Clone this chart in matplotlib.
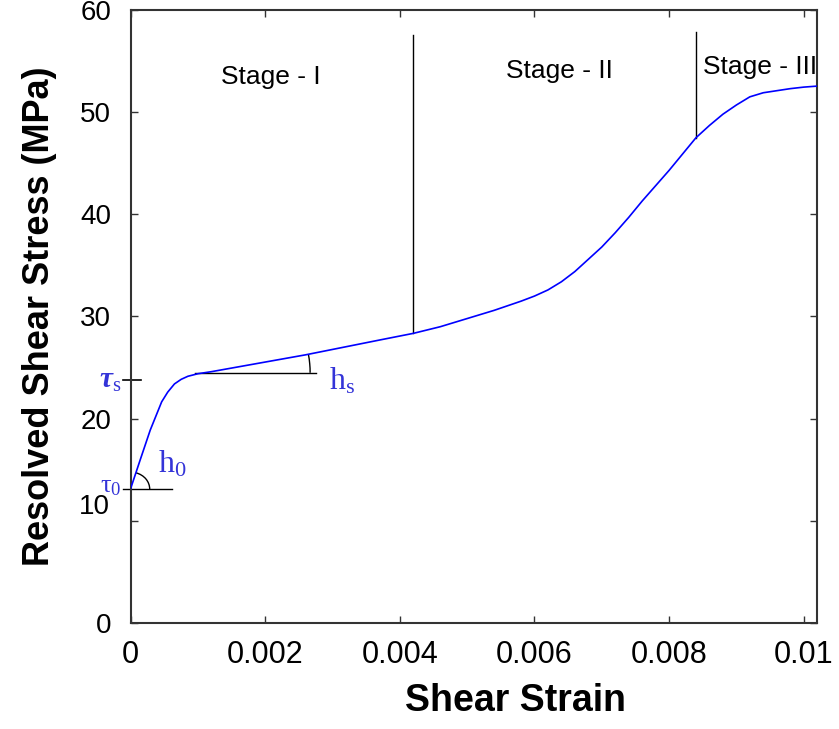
import matplotlib
matplotlib.use("Agg")
import matplotlib.pyplot as plt
from matplotlib.patches import Arc
from matplotlib.transforms import ScaledTranslation, blended_transform_factory
import numpy as np

plt.rcParams['mathtext.fontset'] = 'custom'
plt.rcParams['mathtext.rm'] = 'Liberation Serif'
plt.rcParams['mathtext.it'] = 'Liberation Serif:italic'
plt.rcParams['mathtext.bf'] = 'Liberation Serif:bold:italic'

# ---- data ----
strain = [0.0, 0.00014, 0.00029, 0.00046, 0.00055, 0.00065, 0.00075, 0.00085,
          0.0010, 0.0012, 0.0026, 0.0037, 0.0042, 0.0046, 0.0050, 0.0054,
          0.0058, 0.0060, 0.0062, 0.0064, 0.0066, 0.0068, 0.0070, 0.0072,
          0.0074, 0.0076, 0.0078, 0.0080, 0.0082, 0.0084, 0.0086, 0.0088,
          0.0090, 0.0092, 0.0094, 0.0096, 0.0098, 0.0100, 0.0102]
stress = [13.18, 15.95, 18.88, 21.65, 22.6, 23.4, 23.85, 24.15,
          24.4, 24.6, 26.25, 27.7, 28.35, 29.0, 29.8, 30.6,
          31.5, 32.0, 32.6, 33.4, 34.4, 35.6, 36.8, 38.2,
          39.7, 41.3, 42.8, 44.3, 45.9, 47.5, 48.7, 49.8,
          50.7, 51.5, 51.9, 52.1, 52.3, 52.45, 52.55]

x_ticks = [0, 0.002, 0.004, 0.006, 0.008, 0.010]
x_ticklabels = ['0', '0.002', '0.004', '0.006', '0.008', '0.01']
y_ticks = [0, 10, 20, 30, 40, 50, 60]
y_ticklabels = ['0', '', '20', '30', '40', '50', '60']

tau0 = 13.1
tau_s = 23.8
hs_level = 24.49
stage_bounds = [0.0042, 0.0084]
stage_tops = [57.6, 57.8]
stage_names = ['Stage - I', 'Stage - II', 'Stage - III']
stage_x = [0.00208, 0.00637, 0.00935]
stage_y = [53.4, 54.0, 54.4]

regular = ['Liberation Sans', 'DejaVu Sans']
blue_lbl = '#3434d8'

fig = plt.figure(figsize=(8.39, 7.29), dpi=100)
ax = fig.add_axes([0.1558, 0.1454, 0.8183, 0.8409])

ax.plot(strain, stress, color='#0000ff', lw=1.2, zorder=3)

ax.set_xlim(0, 0.010202)
ax.set_ylim(0, 60)
ax.set_xticks(x_ticks)
ax.set_xticklabels(x_ticklabels, family=regular, fontsize=22)
ax.set_yticks(y_ticks)
ax.set_yticklabels(y_ticklabels, family=regular, fontsize=20)
ax.tick_params(direction='in', length=5, width=1.0, top=True, right=True,
               color='#333333')
ax.tick_params(axis='x', pad=12)
ax.tick_params(axis='y', pad=14)
for s in ax.spines.values():
    s.set_color('#333333')
    s.set_linewidth(1.5)

# "10" label sits a little above its tick in the reference
tr = blended_transform_factory(ax.transAxes, ax.transData) + \
    ScaledTranslation(0, 14 / 100, fig.dpi_scale_trans)
ax.text(-0.030, 10, '10', transform=tr, ha='right', va='center',
        family=regular, fontsize=20, clip_on=False)

ax.set_xlabel('Shear Strain', family=regular, fontsize=27, fontweight='bold')
ax.xaxis.set_label_coords(0.56, -0.098)
ax.set_ylabel('Resolved Shear Stress (MPa)', family=regular, fontsize=26,
              fontweight='bold')
ax.yaxis.set_label_coords(-0.108, 0.50)

# stage separators and labels
for xb, yt in zip(stage_bounds, stage_tops):
    yb = np.interp(xb, strain, stress)
    ax.plot([xb, xb], [yb, yt], color='black', lw=1.0)
for name, sx, sy in zip(stage_names, stage_x, stage_y):
    ax.text(sx, sy, name, ha='center', va='center', family=regular, fontsize=19)

# tau0 line and arc
ax.plot([-0.00012, 0.00062], [tau0, tau0], color='black', lw=1.0, clip_on=False)
arc_tr = fig.dpi_scale_trans + ScaledTranslation(0, tau0, ax.transData)
ax.add_patch(Arc((0, 0), 0.38, 0.34, theta1=0, theta2=72, transform=arc_tr,
                 color='black', lw=1.0))
# tau_s tick
ax.plot([-0.00012, 0.00015], [tau_s, tau_s], color='black', lw=1.2, clip_on=False)
# hs line and arc
ax.plot([0.00095, 0.00275], [hs_level, hs_level], color='black', lw=1.0)
hx = 0.00118
arc_tr2 = fig.dpi_scale_trans + ScaledTranslation(hx, hs_level, ax.transData)
ax.add_patch(Arc((0, 0), 2.0, 2.0, theta1=0, theta2=10.5, transform=arc_tr2,
                 color='black', lw=1.0))

# symbols
lbl_tr = blended_transform_factory(ax.transAxes, ax.transData)
ax.text(-0.013, tau0 + 0.4, r'$\mathrm{\tau}_\mathrm{0}$', transform=lbl_tr,
        ha='right', va='center', color=blue_lbl, fontsize=19, clip_on=False)
ax.text(-0.013, tau_s, r'$\mathbf{\tau}_\mathrm{s}$', transform=lbl_tr, ha='right',
        va='center', color=blue_lbl, fontsize=21, clip_on=False)
ax.text(0.00040, 15.6, r'$\mathrm{h}_\mathrm{0}$', ha='left', va='center',
        color=blue_lbl, fontsize=23)
ax.text(0.00295, 23.7, r'$\mathrm{h}_\mathrm{s}$', ha='left', va='center',
        color=blue_lbl, fontsize=23)

fig.savefig('out.png', dpi=100)
